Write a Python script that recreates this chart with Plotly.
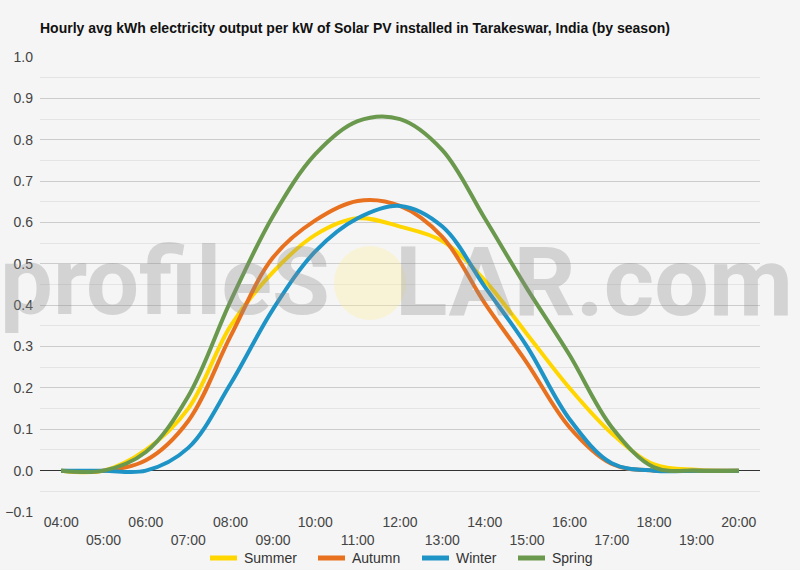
import plotly.graph_objects as go

hours = list(range(4, 21))
hour_labels = [f"{h:02d}:00" for h in hours]

summer = [0.0, 0.0, 0.05, 0.15, 0.35, 0.48, 0.57, 0.61, 0.59, 0.555, 0.46, 0.33, 0.20, 0.09, 0.015, 0.002, 0.0]
autumn = [0.0, 0.0, 0.025, 0.12, 0.325, 0.515, 0.605, 0.652, 0.64, 0.565, 0.405, 0.26, 0.105, 0.016, 0.0, 0.0, 0.0]
winter = [0.0, 0.0, 0.0, 0.055, 0.21, 0.39, 0.53, 0.61, 0.64, 0.59, 0.445, 0.30, 0.125, 0.018, 0.0, 0.0, 0.0]
spring = [0.0, 0.0, 0.045, 0.18, 0.41, 0.615, 0.765, 0.845, 0.85, 0.775, 0.61, 0.44, 0.28, 0.105, 0.008, 0.0, 0.0]

series = [
    ("Summer", summer, "#FFD600"),
    ("Autumn", autumn, "#E8711F"),
    ("Winter", winter, "#1E93C6"),
    ("Spring", spring, "#6A994E"),
]

title_text = "Hourly avg kWh electricity output per kW of Solar PV installed in Tarakeswar, India (by season)"

fig = go.Figure()
for name, vals, col in series:
    fig.add_trace(go.Scatter(
        x=hours, y=vals, name=name, mode="lines", showlegend=False,
        line=dict(color=col, width=4, shape="spline", smoothing=1.0),
    ))

ticktext = [lab if i % 2 == 0 else "<br>" + lab for i, lab in enumerate(hour_labels)]

FONT = "Liberation Sans, Arial, sans-serif"

# plot area in pixels
L, R, T, B = 40, 760, 57, 512
W, H = R - L, B - T

def px(x):
    return (x - L) / W

def py(y):
    return (B - y) / H

fig.update_layout(
    width=800, height=570,
    margin=dict(l=L, r=800 - R, t=T, b=570 - B, autoexpand=False),
    paper_bgcolor="#f5f5f5", plot_bgcolor="#f5f5f5",
    font=dict(family=FONT, size=14, color="#444444"),
    title=dict(text="<b>" + title_text + "</b>", x=40 / 800, xanchor="left", xref="container",
               y=1 - 28 / 570, yanchor="middle", yref="container",
               font=dict(family=FONT, size=14, color="#111111")),
    showlegend=False,
    xaxis=dict(range=[3.5, 20.5], tickvals=hours, ticktext=ticktext, showgrid=False,
               zeroline=False, showline=False, ticks="", automargin=False,
               tickfont=dict(size=14, color="#444444")),
    yaxis=dict(range=[-0.1, 1.0], dtick=0.1, tick0=0, tickformat=".1f", showgrid=True,
               gridcolor="#cccccc", gridwidth=1, zeroline=True, zerolinecolor="#333333",
               zerolinewidth=1, ticks="", showline=False, ticklabelstandoff=6, automargin=False,
               tickfont=dict(size=14, color="#444444"),
               minor=dict(dtick=0.05, tick0=0, showgrid=True, gridcolor="#e4e4e4", gridwidth=1)),
)

# watermark
wm_color = "rgba(140,140,140,0.32)"
fig.add_shape(type="circle", xref="paper", yref="paper",
              x0=px(334), x1=px(406), y0=py(320), y1=py(246),
              fillcolor="rgba(255,240,150,0.32)", line=dict(width=0), layer="above")
fig.add_annotation(text="<b>profileS</b>", xref="paper", yref="paper", x=px(-2), y=py(282),
                   xanchor="left", yanchor="middle", showarrow=False,
                   font=dict(family="Roboto, Liberation Sans, sans-serif", size=94, color=wm_color))
fig.add_annotation(text="<b>LAR.com</b>", xref="paper", yref="paper", x=px(795), y=py(282),
                   xanchor="right", yanchor="middle", showarrow=False,
                   font=dict(family="Roboto, Liberation Sans, sans-serif", size=97, color=wm_color))

# legend (manual, to match spacing)
legend_y = 558
legend_items = [("Summer", 210, "#FFD600"), ("Autumn", 318, "#E8711F"),
                ("Winter", 422, "#1E93C6"), ("Spring", 518, "#6A994E")]
for name, x0, col in legend_items:
    fig.add_shape(type="line", xref="paper", yref="paper",
                  x0=px(x0), x1=px(x0 + 27), y0=py(legend_y), y1=py(legend_y),
                  line=dict(color=col, width=5))
    fig.add_annotation(text=name, xref="paper", yref="paper", x=px(x0 + 32), y=py(legend_y),
                       xanchor="left", yanchor="middle", showarrow=False,
                       font=dict(family=FONT, size=14, color="#333333"))

fig.write_html("out.html")
